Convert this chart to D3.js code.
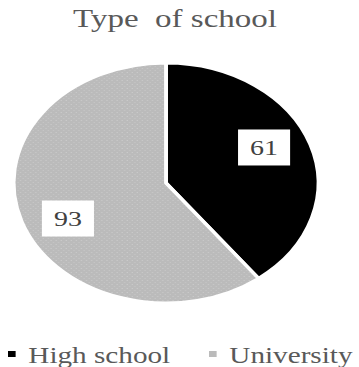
<!DOCTYPE html>
<html>
<head>
<meta charset="utf-8">
<script src="https://cdn.jsdelivr.net/npm/d3@7"></script>
<style>
  body { margin: 0; background: #fff; }
  svg { display: block; }
  text { font-family: "Liberation Serif", "Times New Roman", serif; white-space: pre; }
</style>
</head>
<body>
<div id="chart"></div>
<script>
// chart data
var categories = ["High school", "University"];
var values = [61, 93];
var colors = ["#000000", "#bbbbbb"];
var title = "Type  of school";

var svgWidth = 359,
    svgHeight = 367,
    sx = 1.27,              // the picture is stretched horizontally
    cx = 166 / sx,
    cy = 183,
    radius = 120,
    labelRadius = 85,
    labelShift = -6 * Math.PI / 180;

var svg = d3.select("#chart").append("svg")
    .attr("width", svgWidth)
    .attr("height", svgHeight);

// stipple texture for the grey slice
var defs = svg.append("defs");
var pat = defs.append("pattern")
    .attr("id", "stipple")
    .attr("width", 4)
    .attr("height", 4)
    .attr("patternUnits", "userSpaceOnUse");
pat.append("rect").attr("width", 4).attr("height", 4).attr("fill", colors[1]);
pat.append("rect").attr("x", 1).attr("y", 1).attr("width", 1).attr("height", 1).attr("fill", "#cacaca");
pat.append("rect").attr("x", 3).attr("y", 3).attr("width", 1).attr("height", 1).attr("fill", "#c6c6c6");

var root = svg.append("g")
    .attr("transform", "scale(" + sx + ",1)");

// title
root.append("text")
    .attr("x", 175 / sx)
    .attr("y", 27)
    .attr("text-anchor", "middle")
    .attr("font-size", 26)
    .attr("fill", "#595959")
    .text(title);

var pie = d3.pie().sort(null).value(function(d) { return d; });
var arc = d3.arc().innerRadius(0).outerRadius(radius);
var labelArc = d3.arc().innerRadius(labelRadius).outerRadius(labelRadius);

var arcs = pie(values);

var canvas = root.append("g")
    .attr("transform", "translate(" + cx + "," + cy + ")");

canvas.selectAll("path.slice").data(arcs)
  .join("path")
    .classed("slice", true)
    .attr("d", arc)
    .attr("fill", function(d, i) { return i == 1 ? "url(#stipple)" : colors[i]; })
    .attr("stroke", "#fff")
    .attr("stroke-width", 3)
    .attr("stroke-linejoin", "round");

// value labels in white boxes
var labels = canvas.selectAll("g.label").data(arcs)
  .join("g")
    .classed("label", true)
    .attr("transform", function(d) {
      var c = labelArc.centroid({startAngle: d.startAngle + labelShift, endAngle: d.endAngle + labelShift});
      return "translate(" + c[0] + "," + c[1] + ")";
    });

labels.append("rect")
    .attr("x", -20.5)
    .attr("y", -18)
    .attr("width", 41)
    .attr("height", 36)
    .attr("fill", "#fff");

labels.append("text")
    .attr("text-anchor", "middle")
    .attr("dy", "0.35em")
    .attr("font-size", 22)
    .attr("fill", "#404040")
    .text(function(d) { return d.data; });

// legend
var legendX = [8 / sx, 209 / sx];
var legend = root.selectAll("g.legend").data(categories)
  .join("g")
    .classed("legend", true)
    .attr("transform", function(d, i) { return "translate(" + legendX[i] + ",363)"; });

legend.append("rect")
    .attr("x", 0)
    .attr("y", -12)
    .attr("width", 6)
    .attr("height", 6)
    .attr("fill", function(d, i) { return colors[i]; });

legend.append("text")
    .attr("x", 16)
    .attr("font-size", 23)
    .attr("fill", "#595959")
    .text(function(d) { return d; });
</script>
</body>
</html>
